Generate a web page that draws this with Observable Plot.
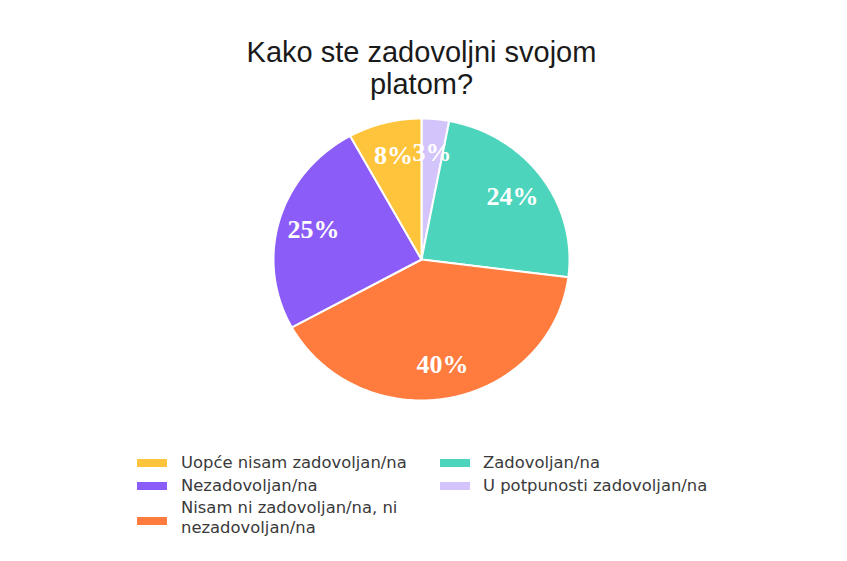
<!DOCTYPE html>
<html>
<head>
<meta charset="utf-8">
<script src="https://cdn.jsdelivr.net/npm/d3@7"></script>
<script src="https://cdn.jsdelivr.net/npm/@observablehq/plot@0.6"></script>
<style>
  html, body { margin: 0; padding: 0; background: #fff; }
  #wrap { position: relative; width: 847px; height: 561px; overflow: hidden; background: #fff; }
  #title { position: absolute; left: 0; top: 36px; width: 843px; text-align: center;
           font-family: "Liberation Sans", Arial, sans-serif; font-size: 29px; line-height: 32px; color: #1a1a1a; }
  #chart { position: absolute; left: 0; top: 100px; }
  .leg { position: absolute; font-family: "DejaVu Sans", sans-serif; font-size: 16.4px; line-height: 20px; color: #3a3a3a; white-space: nowrap; }
  .sw { position: absolute; width: 30px; height: 8px; }
</style>
</head>
<body>
<div id="wrap">
  <div id="title">Kako ste zadovoljni svojom<br>platom?</div>
  <div id="chart"></div>
  <div id="legend"></div>
</div>
<script>
// Slices, clockwise from 12 o'clock
const categories = [
  "U potpunosti zadovoljan/na",
  "Zadovoljan/na",
  "Nisam ni zadovoljan/na, ni nezadovoljan/na",
  "Nezadovoljan/na",
  "Uopće nisam zadovoljan/na"
];
const values = [3, 24, 40, 25, 8];
const colors = ["#D3C4FB", "#4DD4BC", "#FF7C3E", "#8B5CF7", "#FEC43B"];

// Legend layout order (row-major, two columns)
const legendOrder = [
  "Uopće nisam zadovoljan/na",
  "Zadovoljan/na",
  "Nezadovoljan/na",
  "U potpunosti zadovoljan/na",
  "Nisam ni zadovoljan/na, ni nezadovoljan/na"
];

const total = d3.sum(values);
const pts = [];
const labels = [];
let cum = 0;
categories.forEach((cat, i) => {
  const a0 = cum / total * 2 * Math.PI;
  cum += values[i];
  const a1 = cum / total * 2 * Math.PI;
  pts.push({cat, x: 0, y: 0});
  const n = Math.max(2, Math.ceil((a1 - a0) / (Math.PI / 180)));
  for (let k = 0; k <= n; k++) {
    const a = a0 + (a1 - a0) * k / n;
    pts.push({cat, x: Math.sin(a), y: Math.cos(a)});
  }
  pts.push({cat, x: 0, y: 0});
  const am = (a0 + a1) / 2;
  labels.push({cat, x: 0.76 * Math.sin(am), y: 0.76 * Math.cos(am), text: values[i] + "%"});
});

const cx = 421, cy = 159, rx = 148, ry = 141;
const chart = Plot.plot({
  width: 847,
  height: 320,
  margin: 0,
  x: {domain: [-1, 1], range: [cx - rx, cx + rx], axis: null},
  y: {domain: [-1, 1], range: [cy + ry, cy - ry], axis: null},
  color: {domain: categories, range: colors},
  style: {background: "transparent", overflow: "visible"},
  marks: [
    Plot.line(pts, {x: "x", y: "y", z: "cat", fill: "cat", stroke: "white", strokeWidth: 2, curve: "linear"}),
    Plot.text(labels, {x: "x", y: "y", text: "text", fill: "white", fontSize: 26, fontWeight: "bold",
      fontFamily: "Liberation Serif, Times New Roman, serif"})
  ]
});
document.getElementById("chart").appendChild(chart);

// Legend
const legPos = [
  {sx: 137, tx: 181, ty: 453, sy: 459},
  {sx: 440, tx: 483, ty: 453, sy: 459},
  {sx: 137, tx: 181, ty: 476, sy: 482},
  {sx: 440, tx: 483, ty: 476, sy: 482},
  {sx: 137, tx: 181, ty: 498, sy: 517}
];
const legend = document.getElementById("legend");
legendOrder.forEach((cat, i) => {
  const p = legPos[i];
  const sw = document.createElement("div");
  sw.className = "sw";
  sw.style.left = p.sx + "px";
  sw.style.top = p.sy + "px";
  sw.style.background = colors[categories.indexOf(cat)];
  legend.appendChild(sw);
  const t = document.createElement("div");
  t.className = "leg";
  t.style.left = p.tx + "px";
  t.style.top = p.ty + "px";
  t.innerHTML = cat === "Nisam ni zadovoljan/na, ni nezadovoljan/na"
    ? "Nisam ni zadovoljan/na, ni<br>nezadovoljan/na" : cat;
  legend.appendChild(t);
});
</script>
</body>
</html>
